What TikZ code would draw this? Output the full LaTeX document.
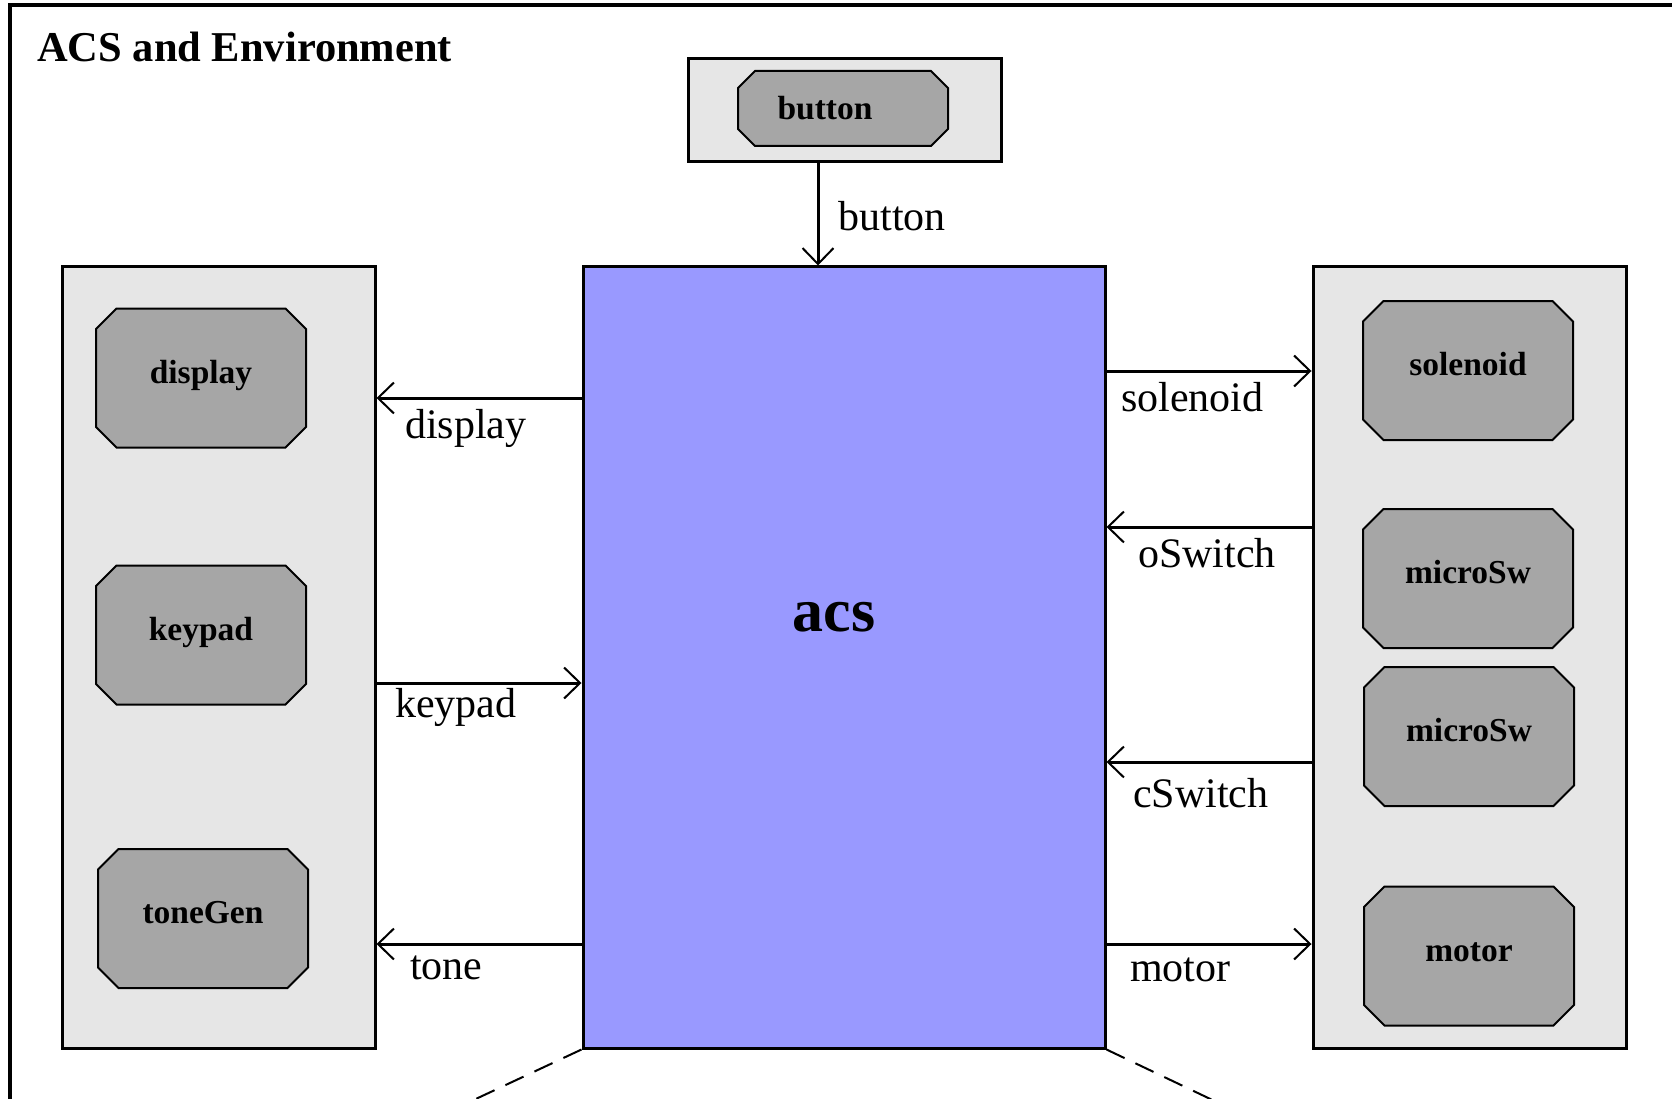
\documentclass[tikz,border=0pt]{standalone}
\usepackage{fontspec}
\setmainfont{Liberation Serif}
\usetikzlibrary{arrows.meta,shapes.misc}

\definecolor{envgray}{HTML}{E6E6E6}
\definecolor{partgray}{HTML}{A6A6A6}
\definecolor{acsblue}{HTML}{9999FF}

\begin{document}
\begin{tikzpicture}[x=1pt, y=-1pt, >={Straight Barb[length=16pt,width=31pt,line width=2pt]},
    env box/.style={draw, line width=3pt, fill=envgray, rectangle, minimum width=313pt, minimum height=781pt},
    part node/.style={draw, line width=2pt, fill=partgray, chamfered rectangle, chamfered rectangle xsep=10pt, chamfered rectangle ysep=10.5pt, minimum width=210pt, minimum height=139pt, inner sep=0pt, text height=23pt, text depth=13pt, font=\bfseries\fontsize{33.5}{40}\selectfont},
    flow/.style={->, line width=3pt},
    flow label/.style={anchor=base west, inner sep=0pt, font=\fontsize{42}{50}\selectfont}]
                \useasboundingbox (0,0) rectangle (1672,1099);
                \draw[line width=3.5pt] (10,1200) -- (10,5) -- (1750,5);
                \node[anchor=base west, inner sep=0pt, font=\bfseries\fontsize{42.5}{50}\selectfont] (title) at (37,62) {ACS and Environment};

                % top: button
                \node[env box, minimum width=313pt, minimum height=103pt] (envT) at (844.5,110.5) {};
                \node[part node, minimum height=75pt, chamfered rectangle xsep=11pt, chamfered rectangle ysep=6pt, text depth=0pt] (button) at (843,108.5) {\hspace*{-36pt}button};

                % the controller
                \node[draw, line width=3pt, fill=acsblue, minimum width=522pt, minimum height=781pt] (acs) at (844,657.5) {};
                \node[anchor=base, inner sep=0pt, font=\bfseries\fontsize{62}{70}\selectfont] (acsname) at (834,631) {acs};

                % left side
                \node[env box] (envL) at (218.5,657.5) {};
                \node[part node] (display) at (201,378) {display};
                \node[part node] (keypad) at (201,635) {keypad};
                \node[part node] (toneGen) at (203,918.5) {toneGen};

                % right side
                \node[env box] (envR) at (1469.5,657.5) {};
                \node[part node] (solenoid) at (1468,370.5) {solenoid};
                \node[part node] (microSw1) at (1468,578.5) {microSw};
                \node[part node] (microSw2) at (1469,736.5) {microSw};
                \node[part node] (motor) at (1469,956) {motor};

                \draw[flow] (envT.south -| 818,0) -- (acs.north -| 818,0) node[flow label, xshift=19pt, yshift=35pt] {button};

                \draw[flow] (acs.west |- 0,398) -- (envL.east |- 0,398) node[flow label, xshift=27pt, yshift=-40pt] {display};
                \draw[flow] (envL.east |- 0,683) node[flow label, xshift=17pt, yshift=-34pt] {keypad} -- (acs.west |- 0,683);
                \draw[flow] (acs.west |- 0,944) -- (envL.east |- 0,944) node[flow label, xshift=32pt, yshift=-35pt] {tone};

                \draw[flow] (acs.east |- 0,371) node[flow label, xshift=13pt, yshift=-40pt] {solenoid} -- (envR.west |- 0,371);
                \draw[flow] (envR.west |- 0,527) -- (acs.east |- 0,527) node[flow label, xshift=30pt, yshift=-40pt] {oSwitch};
                \draw[flow] (envR.west |- 0,762) -- (acs.east |- 0,762) node[flow label, xshift=25pt, yshift=-45pt] {cSwitch};
                \draw[flow] (acs.east |- 0,944) node[flow label, xshift=22pt, yshift=-37pt] {motor} -- (envR.west |- 0,944);

                \draw[line width=2pt, dash pattern=on 20pt off 12pt] (acs.south west) -- ++(-218,102);
                \draw[line width=2pt, dash pattern=on 20pt off 12pt] (acs.south east) -- ++(214,102);
            \end{tikzpicture}
\end{document}
